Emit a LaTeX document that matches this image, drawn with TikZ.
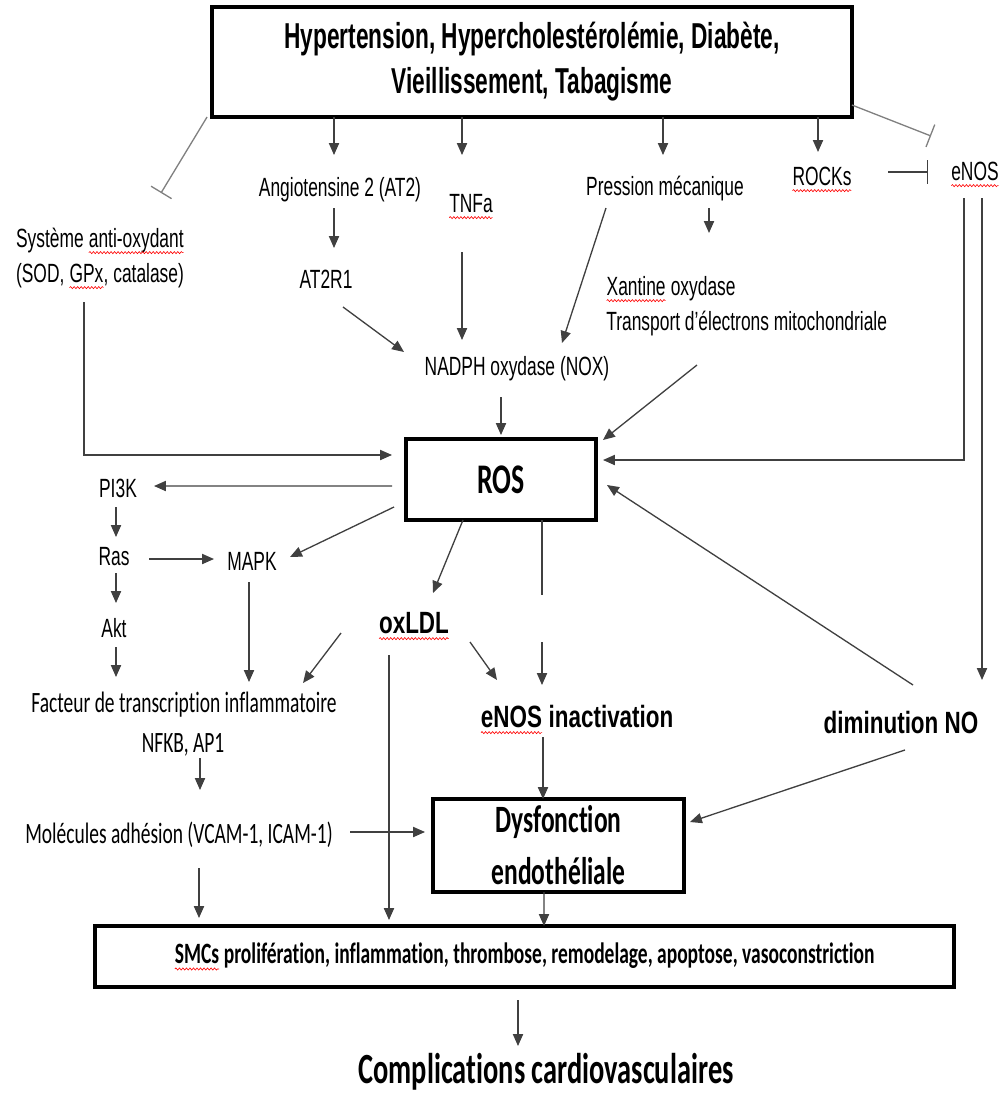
\documentclass[tikz,border=0pt]{standalone}
\usepackage{fontspec}
\usetikzlibrary{positioning, calc, arrows.meta, decorations.pathmorphing}
\newfontfamily\arl[FakeStretch=0.66]{Liberation Sans}
\newfontfamily\arlb[FakeStretch=0.63]{Liberation Sans}
\newfontfamily\arlm[FakeStretch=0.73]{Liberation Sans}
\newfontfamily\calfont[FakeStretch=0.66, Ligatures=NoCommon]{Carlito}
\definecolor{linegray}{gray}{0.25}
\definecolor{inhgray}{gray}{0.5}
% red spell-check underline
\newcommand\squig[1]{\tikz[baseline=(sq.base)]{\node[inner sep=0pt, outer sep=0pt, minimum width=0pt,
    minimum height=0pt, draw=none, anchor=base] (sq) {#1};
    \draw[red, line width=0.35pt, decorate, decoration={snake, amplitude=0.6pt, segment length=2pt}]
    ([yshift=-3.2pt]sq.base west) -- ([yshift=-3.2pt]sq.base east);}}

\begin{document}
\begin{tikzpicture}[x=0.02cm, y=-0.02cm,
    lbl/.style={inner sep=0pt, anchor=base, font=\arl\fontsize{15}{18}\selectfont},
    blbl/.style={inner sep=0pt, anchor=base, font=\arlm\bfseries\fontsize{17.5}{21}\selectfont},
    clbl/.style={inner sep=0pt, anchor=base, font=\calfont\fontsize{16.8}{20}\selectfont},
    box/.style={draw, line width=1.8pt, inner sep=0pt, outer sep=0pt},
    flow/.style={draw=linegray, line width=0.75pt, -{Triangle[length=6.8pt, width=5.8pt]}},
    inhib/.style={draw=inhgray, line width=0.75pt, -{Bar[width=0.48cm]}}]

        \useasboundingbox (0,0) rectangle (1002,1093);

        %risk factors
        \node[box, line width=2.3pt, minimum width=12.8cm, minimum height=2.2cm, align=center,
              font=\arlb\bfseries\fontsize{20.5}{25.6}\selectfont] (top) at (532,62)
              {Hypertension, Hypercholestérolémie, Diabète,\\Vieillissement, Tabagisme};

        \node[lbl] (ang) at (340,196) {Angiotensine 2 (AT2)};
        \node[lbl] (tnf) at (471,212) {\squig{TNFa}};
        \node[lbl] (sys1) at (100,247) {Système \squig{anti-oxydant}};
        \node[lbl] (sys2) at (100,282) {(SOD, \squig{GPx}, catalase)};
        \node[lbl] (at2r1) at (326,288) {AT2R1};
        \node[lbl] (pres) at (665,195) {Pression mécanique};
        \node[lbl] (rock) at (822,185) {\squig{ROCKs}};
        \node[lbl] (enos) at (975,180) {\squig{eNOS}};
        \node[lbl, anchor=base west] (xan) at (606,295) {\squig{Xantine} oxydase};
        \node[lbl, anchor=base west] (trans) at (606,330) {Transport d’électrons mitochondriale};
        \node[lbl] (nox) at (517,375) {NADPH oxydase (NOX)};

        \node[box, minimum width=3.8cm, minimum height=1.62cm,
              font=\calfont\bfseries\fontsize{24}{28}\selectfont] (ros) at (501,479.5) {ROS};

        \node[lbl] (pi3k) at (118,497) {PI3K};
        \node[lbl] (ras) at (114,565) {Ras};
        \node[lbl] (mapk) at (252,570) {MAPK};
        \node[lbl] (akt) at (114,637) {Akt};
        \node[blbl, font=\arlm\bfseries\fontsize{17.5}{20}\selectfont] (oxldl) at (414,633) {\squig{oxLDL}};
        \node[clbl] (fact) at (184,712) {Facteur de transcription inflammatoire};
        \node[clbl] (nfkb) at (183,752) {NFKB, AP1};
        \node[blbl] (einact) at (577,727) {\squig{eNOS} inactivation};
        \node[blbl] (dimno) at (901,733) {diminution NO};
        \node[clbl] (mol) at (179,843) {Molécules adhésion (VCAM-1, ICAM-1)};

        \node[box, minimum width=5.02cm, minimum height=1.86cm, align=center,
              font=\calfont\bfseries\fontsize{22}{29.6}\selectfont] (dys) at (558.5,845.5) {Dysfonction\\endothéliale};
        \node[box, line width=2pt, minimum width=17.18cm, minimum height=1.22cm,
              font=\calfont\bfseries\fontsize{16.8}{19}\selectfont] (smc) at (524.5,956.5)
              {\squig{SMCs} prolifération, inflammation, thrombose, remodelage, apoptose, vasoconstriction};
        \node[clbl, font=\calfont\bfseries\fontsize{24.5}{29}\selectfont] (compl) at (546,1083) {Complications cardiovasculaires};

        %from the top box
        \draw[flow] ($(top.south)+(-198,0)$) -- ($(ang.base)+(-6,-41)$);
        \draw[flow] ($(top.south)+(-70,0)$) -- ($(tnf.base)+(-9,-57)$);
        \draw[flow] ($(top.south)+(131,0)$) -- ($(pres.base)+(-2,-40)$);
        \draw[flow] ($(top.south)+(286,0)$) -- ($(rock.base)+(-4,-33)$);
        \draw[inhib] ($(top.south west)+(-5,0)$) -- ($(sys1.base)+(61,-54)$);
        \draw[inhib] ($(top.east)+(0,43)$) -- ($(enos.base)+(-44,-44)$);
        \draw[inhib, draw=linegray] ($(rock.base)+(66,-13)$) -- ($(enos.base)+(-47,-8)$);

        %towards ROS
        \draw[flow] ($(ang.base)+(-6,12)$) -- ($(at2r1.base)+(8,-40)$);
        \draw[flow] ($(tnf.base)+(-9,40)$) -- ($(nox.base)+(-55,-35)$);
        \draw[flow] ($(at2r1.base)+(17,19)$) -- ($(nox.base)+(-113,-23)$);
        \draw[flow] ($(pres.base)+(-59,13)$) -- ($(nox.base)+(45,-32)$);
        \draw[flow] ($(pres.base)+(44,13)$) -- ($(xan.base west)+(103,-62)$);
        \draw[flow] ($(trans.base west)+(91,35)$) -- ($(ros.north east)+(7,1)$);
        \draw[flow] ($(nox.base)+(-16,22)$) -- ($(ros.north)+(0,-4)$);
        \draw[flow] ($(sys2.base)+(-16,20)$) |- ($(ros.west)+(-14,-24.5)$);
        \draw[flow] ($(enos.base)+(-11,18)$) |- ($(ros.east)+(7,-19.5)$);
        \draw[flow] ($(enos.base)+(7,18)$) -- ($(dimno.base)+(81,-53)$);
        \draw[flow] ($(dimno.base)+(12,-48)$) -- ($(ros.east)+(11,5.5)$);

        %left branch
        \draw[flow] ($(ros.west)+(-14,6.5)$) -- ($(pi3k.base)+(36,-11)$);
        \draw[flow] ($(ros.west)+(-12,27.5)$) -- ($(mapk.base)+(38,-13)$);
        \draw[flow] ($(pi3k.base)+(-2,10)$) -- ($(ras.base)+(2,-28)$);
        \draw[flow] ($(ras.base)+(35,-6)$) -- ($(mapk.base)+(-38,-11)$);
        \draw[flow] ($(ras.base)+(2,8)$) -- ($(akt.base)+(2,-34)$);
        \draw[flow] ($(akt.base)+(2,10)$) -- ($(fact.base)+(-68,-35)$);
        \draw[flow] ($(mapk.base)+(-3,12)$) -- ($(fact.base)+(65,-30)$);
        \draw[flow] ($(oxldl.base)+(-73,0)$) -- ($(fact.base)+(119,-29)$);
        \draw[flow] ($(nfkb.base)+(17,6)$) -- ($(mol.base)+(21,-53)$);

        %middle
        \draw[flow] ($(ros.south)+(-38,0)$) -- ($(oxldl.base)+(19,-40)$);
        \draw[flow] ($(ros.south)+(41,0)$) -- ($(einact.base)+(-35,-132)$)
                    ($(einact.base)+(-35,-85)$) -- ($(einact.base)+(-35,-42)$);
        \draw[flow] ($(oxldl.base)+(56,9)$) -- ($(einact.base)+(-80,-47)$);
        \draw[flow] ($(einact.base)+(-34,10)$) -- ($(dys.north)+(-15.5,0)$);
        \draw[flow] ($(dimno.base)+(4,17)$) -- ($(dys.east)+(6,-23.5)$);
        \draw[flow] ($(mol.base)+(171,-11)$) -- ($(dys.west)+(-8,-13.5)$);

        %bottom
        \draw[flow] ($(mol.base)+(20,25)$) -- ($(smc.north)+(-325.5,-8)$);
        \draw[flow] ($(oxldl.base)+(-25,22)$) -- ($(smc.north)+(-135.5,-6)$);
        \draw[flow] ($(dys.south)+(-14.5,0)$) -- ($(smc.north)+(19.5,0)$);
        \draw[flow] ($(smc.south)+(-6.5,13)$) -- ($(compl.base)+(-28,-37)$);
    \end{tikzpicture}
\end{document}
